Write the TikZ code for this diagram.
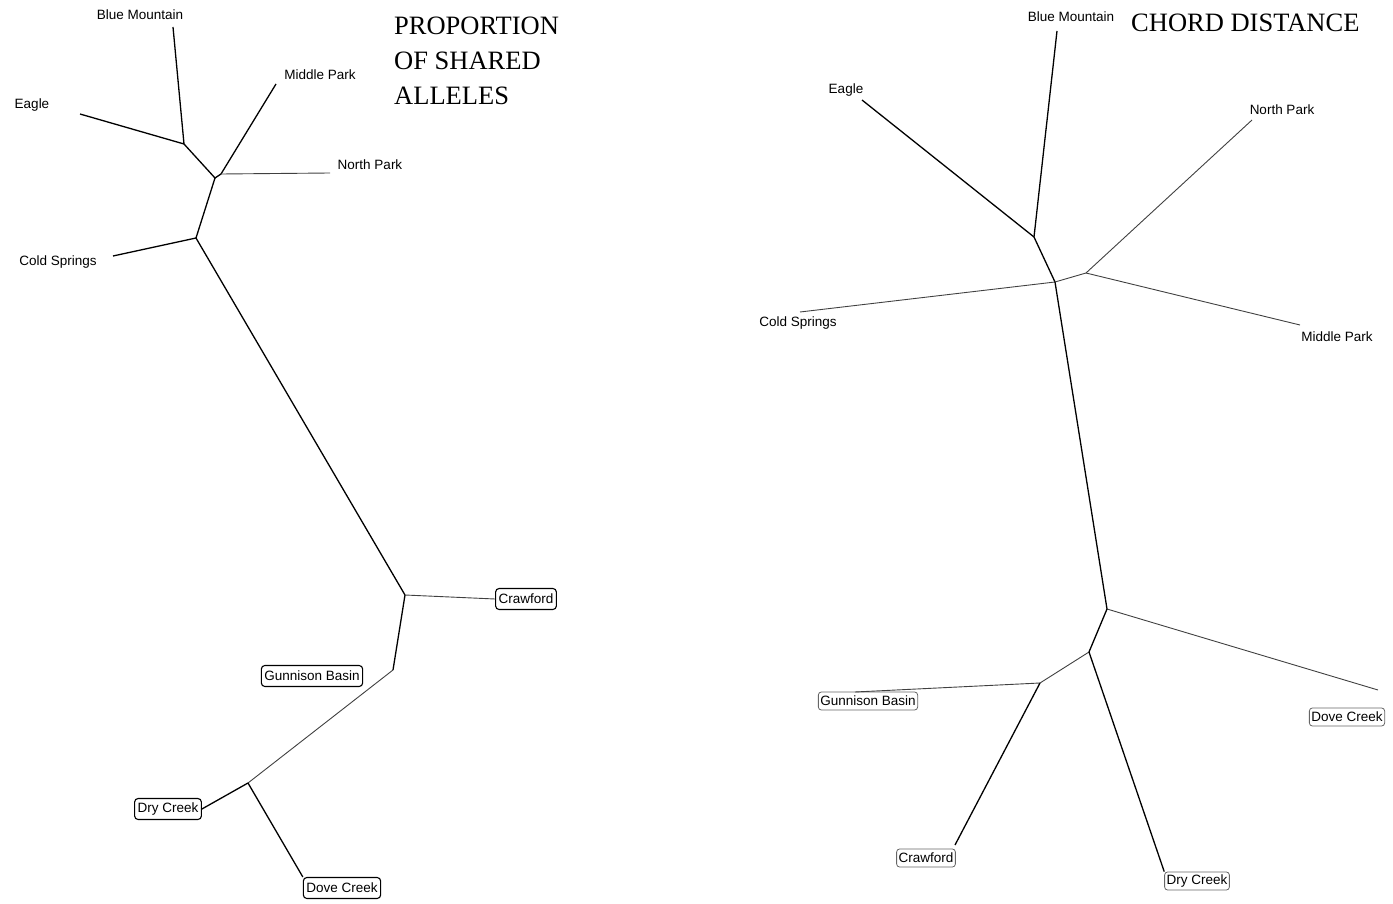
\documentclass[tikz,border=0pt]{standalone}
\usepackage{fontspec}
\setmainfont{Liberation Serif}
\setsansfont{Liberation Sans}
\tikzset{
  branch/.style={line width=1.3pt, color=black},
  faint/.style={line width=0.9pt, color=black!75},
  taxon/.style={font=\sffamily\fontsize{13.5}{15}\selectfont, inner sep=1pt},
  boxed/.style={taxon, draw, rounded corners=3.5pt, inner xsep=3pt, minimum height=21pt, line width=1.1pt},
  pale/.style={taxon, draw=black!60, rounded corners=3pt, inner xsep=2pt, minimum height=18pt, line width=0.8pt},
  heading/.style={font=\fontsize{26.5}{35}\selectfont, align=left, inner sep=0pt, anchor=north west}
}
\begin{document}
\begin{tikzpicture}[x=1pt, y=-1pt]
\useasboundingbox (0,0) rectangle (1393,904);
\node[heading] (titleL) at (394,17) {PROPORTION\\OF SHARED\\ALLELES};
\node[heading] (titleR) at (1131,14) {CHORD DISTANCE};
\node[taxon] (bmL) at (140,15) {Blue Mountain};
\node[taxon] (eaL) at (32,105) {Eagle};
\node[taxon] (mpL) at (320,75) {Middle Park};
\node[taxon] (npL) at (370,165) {North Park};
\node[taxon] (csL) at (58,262) {Cold Springs};
\node[boxed] (crL) at (526,599) {Crawford};
\node[boxed] (gbL) at (312,676) {Gunnison Basin};
\node[boxed] (dyL) at (168,809) {Dry Creek};
\node[boxed] (dvL) at (342,888) {Dove Creek};
\coordinate (a1) at (184,144);
\coordinate (a2) at (215,178);
\coordinate (a2b) at (221,174);
\coordinate (a3) at (196,238);
\coordinate (a4) at (405,595);
\coordinate (a5) at (393,670);
\coordinate (a6) at (248,783);
\coordinate (bmLe) at (173,27);
\coordinate (eaLe) at (80,114);
\coordinate (mpLe) at (276,84);
\coordinate (npLe) at (330,173);
\coordinate (csLe) at (113,256);
\draw[branch] (bmLe) -- (a1);
\draw[branch] (eaLe) -- (a1);
\draw[branch] (a1) -- (a2) -- (a2b);
\draw[branch] (mpLe) -- (a2b);
\draw[faint] (a2b) -- (npLe);
\draw[branch] (a2) -- (a3);
\draw[branch] (csLe) -- (a3);
\draw[branch] (a3) -- (a4);
\draw[faint] (a4) -- (crL.west);
\draw[branch] (a4) -- (a5);
\draw[faint] (a5) -- (a6);
\draw[branch] (a6) -- (dyL.east);
\draw[branch] (a6) -- (dvL.north west);
\node[taxon] (bmR) at (1071,17) {Blue Mountain};
\node[taxon] (eaR) at (846,90) {Eagle};
\node[taxon] (npR) at (1282,110) {North Park};
\node[taxon] (csR) at (798,323) {Cold Springs};
\node[taxon] (mpR) at (1337,337) {Middle Park};
\node[pale] (gbR) at (868,701) {Gunnison Basin};
\node[pale] (dvR) at (1347,717) {Dove Creek};
\node[pale] (crR) at (926,858) {Crawford};
\node[pale] (dyR) at (1197,881) {Dry Creek};
\coordinate (b1) at (1034,237);
\coordinate (b2) at (1055,282);
\coordinate (b3) at (1086,273);
\coordinate (b4) at (1107,609);
\coordinate (b5) at (1089,652);
\coordinate (b6) at (1040,683);
\coordinate (bmRe) at (1057,31);
\coordinate (eaRe) at (862,100);
\coordinate (npRe) at (1252,120);
\coordinate (csRe) at (800,312);
\coordinate (mpRe) at (1300,325);
\coordinate (gbRe) at (855,692);
\coordinate (dvRe) at (1378,690);
\coordinate (crRe) at (955,845);
\draw[branch] (bmRe) -- (b1);
\draw[branch] (eaRe) -- (b1);
\draw[branch] (b1) -- (b2);
\draw[faint] (csRe) -- (b2);
\draw[faint] (b2) -- (b3);
\draw[faint] (b3) -- (npRe);
\draw[faint] (b3) -- (mpRe);
\draw[branch] (b2) -- (b4);
\draw[faint] (b4) -- (dvRe);
\draw[branch] (b4) -- (b5);
\draw[faint] (b5) -- (b6);
\draw[faint] (b6) -- (gbRe);
\draw[branch] (b6) -- (crRe);
\draw[branch] (b5) -- (dyR.north west);
\end{tikzpicture}
\end{document}
